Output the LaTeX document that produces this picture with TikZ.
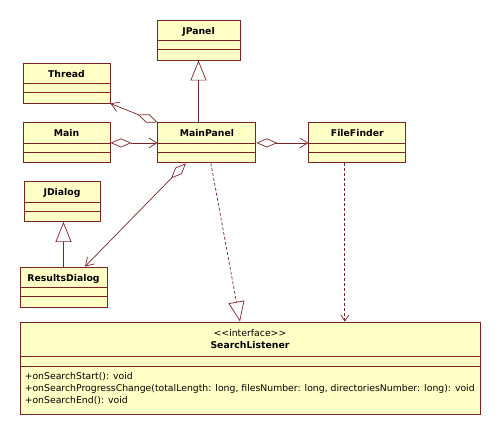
\documentclass[tikz,border=0pt]{standalone}
\usepackage{fontspec}
\setmainfont{DejaVu Sans}
\usetikzlibrary{arrows.meta,positioning}

\definecolor{umlfill}{RGB}{255,255,198}
\definecolor{umlline}{RGB}{122,36,36}

\tikzset{
	umlclass/.style={draw=umlline, fill=umlfill, line width=0.9pt, inner sep=0pt,
		minimum height=40pt, font=\bfseries\fontsize{9.3}{11}\selectfont,
		text height=6pt, text depth=18pt},
	umltext/.style={inner sep=0pt, font=\fontsize{9.3}{11}\selectfont},
	link/.style={draw=umlline, line width=0.7pt},
	extends/.style={link, -{Triangle[open, length=20pt, width=16pt]}},
	implements/.style={extends, dash pattern=on 3pt off 2pt},
	aggregates/.style={link, {Diamond[open, length=21pt, width=9pt]}-{Straight Barb[length=8pt, width=10pt]}},
	uses/.style={link, dash pattern=on 3pt off 2pt, -{Straight Barb[length=6pt, width=8pt]}},
}

\begin{document}
\begin{tikzpicture}[x=1pt, y=-1pt]
	\useasboundingbox (0,0) rectangle (500,434);
	
	\node [umlclass, minimum width=87pt] (thread) at (66.5,83) {Thread};
	\node [umlclass, minimum width=87pt, below=19pt of thread] (main) {Main};
	\node [umlclass, minimum width=98pt, right=47pt of main] (mainpanel) {MainPanel};
	\node [umlclass, minimum width=97pt, right=52pt of mainpanel] (filefinder) {FileFinder};
	\node [umlclass, minimum width=83pt] (jpanel) at (198.5,40) {JPanel};
	\node [umlclass, minimum width=76pt] (jdialog) at (62,201.5) {JDialog};
	\node [umlclass, minimum width=87pt] (resultsdialog) at (63.5,287) {ResultsDialog};
	
	% the interface
	\node [umlclass, minimum width=460pt, minimum height=92pt, text height=0pt, text depth=0pt] (searchlistener) at (250,368) {};
	\node [umltext, anchor=base] (stereotype) at ([yshift=-14.5pt]searchlistener.north) {{<}{<}interface{>}{>}};
	\node [umltext, anchor=base, font=\bfseries\fontsize{9.3}{11}\selectfont] (listenername) at ([yshift=-27pt]searchlistener.north) {SearchListener};
	\node [umltext, anchor=base west] (onstart) at ([xshift=5pt,yshift=-57.5pt]searchlistener.north west) {+onSearchStart(): void};
	\node [umltext, anchor=base west] (onprogress) at ([yshift=-12.3pt]onstart.base west) {+onSearchProgressChange(totalLength: long, filesNumber: long, directoriesNumber: long): void};
	\node [umltext, anchor=base west] (onend) at ([yshift=-12.3pt]onprogress.base west) {+onSearchEnd(): void};
	
	% compartments
	\foreach \c in {jpanel,thread,main,mainpanel,filefinder,jdialog,resultsdialog}
		\draw [umlline, line width=0.9pt] ([yshift=-21pt]\c.north west) -- ([yshift=-21pt]\c.north east)
			([yshift=-30pt]\c.north west) -- ([yshift=-30pt]\c.north east);
	\draw [umlline, line width=0.9pt] ([yshift=-35pt]searchlistener.north west) -- ([yshift=-35pt]searchlistener.north east)
		([yshift=-44.5pt]searchlistener.north west) -- ([yshift=-44.5pt]searchlistener.north east);
	
	% relations
	\draw [extends] (mainpanel.north -| jpanel.south) -- (jpanel.south);
	\draw [extends] (resultsdialog.north) -- (resultsdialog.north |- jdialog.south);
	\draw [aggregates] (mainpanel.north west) -- (thread.south east);
	\draw [aggregates] (main.east) -- (mainpanel.west);
	\draw [aggregates] (mainpanel.east) -- (filefinder.west);
	\draw [aggregates] ([xshift=-21pt]mainpanel.south) -- ([xshift=21.5pt]resultsdialog.north);
	\draw [implements] ([xshift=4pt]mainpanel.south) -- ([xshift=-10pt]searchlistener.north);
	\draw [uses] ([xshift=-12.5pt]filefinder.south) -- ([xshift=-12.5pt]filefinder.south |- searchlistener.north);
\end{tikzpicture}
\end{document}
